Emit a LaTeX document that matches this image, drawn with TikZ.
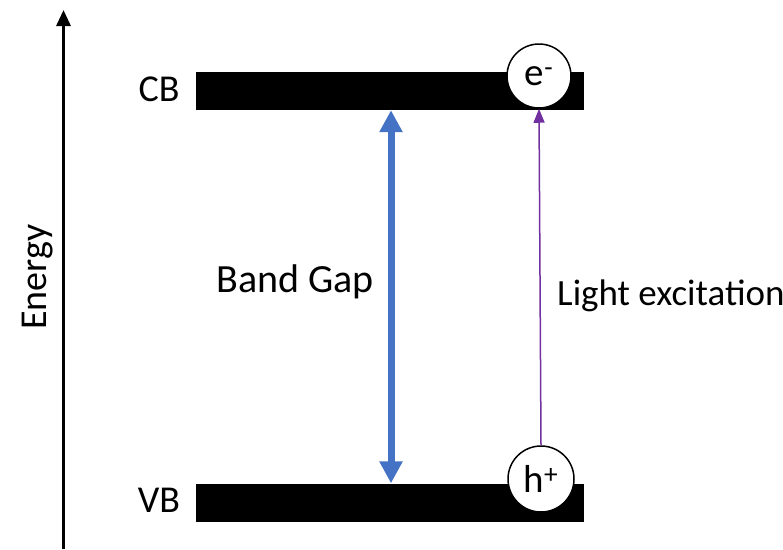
\documentclass[tikz,border=0pt]{standalone}
\usepackage{fontspec}
\setmainfont{Carlito}
\usetikzlibrary{arrows.meta}
\definecolor{bandblue}{HTML}{4472C4}
\definecolor{excpurple}{HTML}{7030A0}
\begin{document}
\begin{tikzpicture}[x=1pt,y=-1pt,
  band/.style={rectangle, fill=black, draw=none, minimum width=388pt, minimum height=38pt, inner sep=0pt},
  particle/.style={circle, draw=black, line width=1.5pt, fill=white, inner sep=0pt, font=\fontsize{39}{42}\selectfont},
  lbl/.style={inner sep=0pt, font=\fontsize{38}{41}\selectfont},
]
\useasboundingbox (0,0) rectangle (783,549);
% bands
\node[band] (cb) at (390,91) {};
\node[band] (vb) at (390,502.5) {};
% energy axis
\coordinate (axb) at (63.5,549);
\coordinate (axt) at (63.5,10);
\draw[line width=3pt, -{Triangle[length=16pt,width=14pt]}] (axb) -- (axt);
\node[lbl, rotate=90, anchor=base] (energy) at (46,277) {Energy};
% labels
\node[lbl, anchor=base] (cbl) at (159,101) {CB};
\node[lbl, anchor=base] (vbl) at (159,512) {VB};
% band gap arrow
\coordinate (bgx) at (391,0);
\draw[bandblue, line width=7pt, {Triangle[length=22pt,width=22pt]}-{Triangle[length=22pt,width=22pt]}] (vb.north -| bgx) -- (cb.south -| bgx);
\node[lbl, anchor=base, font=\fontsize{40}{43}\selectfont] (bgl) at (295,292) {Band Gap};
% particles
\node[particle, minimum size=64pt] (e) at (539,76) {e\textsuperscript{-}};
\node[particle, minimum size=66pt] (h) at (541,479) {h\textsuperscript{+}};
% excitation
\draw[excpurple, line width=1.5pt, -{Triangle[length=14pt,width=11pt]}] (h.north) -- (e.south);
\node[lbl, anchor=base west, font=\fontsize{37}{40}\selectfont] (exl) at (557,305) {Light excitation};
\end{tikzpicture}
\end{document}
